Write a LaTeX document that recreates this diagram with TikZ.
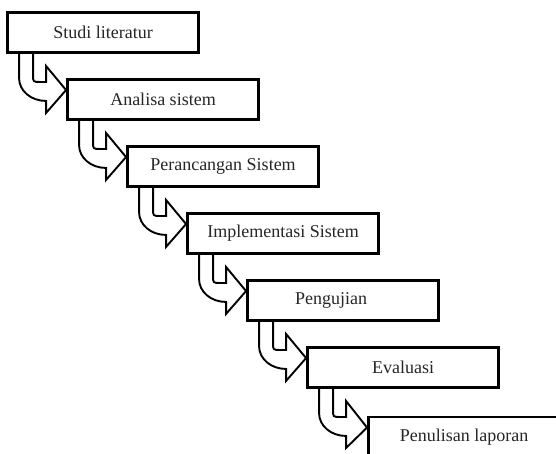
\documentclass[tikz,border=0pt]{standalone}
\usepackage{fontspec}
\setmainfont{Liberation Serif}
\begin{document}
\begin{tikzpicture}[x=1pt,y=-1pt,
  box/.style={draw=black, line width=1.9pt, fill=white, minimum width=190pt, minimum height=39pt, inner sep=0pt,
    font=\fontsize{18}{20}\selectfont, text=black!85},
  uarrow/.style={draw=black, line width=1.9pt, fill=white, line join=miter}]
\useasboundingbox (0,0) rectangle (556,453);
\clip (0,0) rectangle (556,453);
\fill[white] (0,0) rectangle (556,453);
\node[box] (b1) at (103,32.5) {Studi literatur};
\node[box] (b2) at (163,99.5) {Analisa sistem};
\node[box] (b3) at (223,166.5) {Perancangan Sistem};
\node[box] (b4) at (283,233.5) {Implementasi Sistem};
\node[box] (b5) at (343,300.5) {\hspace*{-24pt}Pengujian};
\node[box] (b6) at (403,367.5) {Evaluasi};
\node[box] (b7) at (464,437) {Penulisan laporan};
\foreach \i/\j in {1/2,2/3,3/4,4/5,5/6,6/7}{
  \coordinate (s\i) at (b\i.south west);
  \coordinate (t\i) at ([shift={(-1,11)}]b\j.north west);
  \draw[uarrow] ([shift={(12,0)}]s\i) -- ([shift={(12,25)}]s\i)
    .. controls ([shift={(12,38)}]s\i) and ([shift={(24,48)}]s\i) .. ([shift={(39,48)}]s\i)
    -- ([shift={(39,60)}]s\i) -- (t\i) -- ([shift={(39,13)}]s\i) -- ([shift={(39,29)}]s\i)
    -- ([shift={(33,29)}]s\i) .. controls ([shift={(26,29)}]s\i) .. ([shift={(26,22)}]s\i)
    -- ([shift={(26,0)}]s\i) -- cycle;
}
\foreach \i in {1,...,7}{
  \draw[line width=1.9pt] (b\i.north west) rectangle (b\i.south east);
}
\end{tikzpicture}
\end{document}
